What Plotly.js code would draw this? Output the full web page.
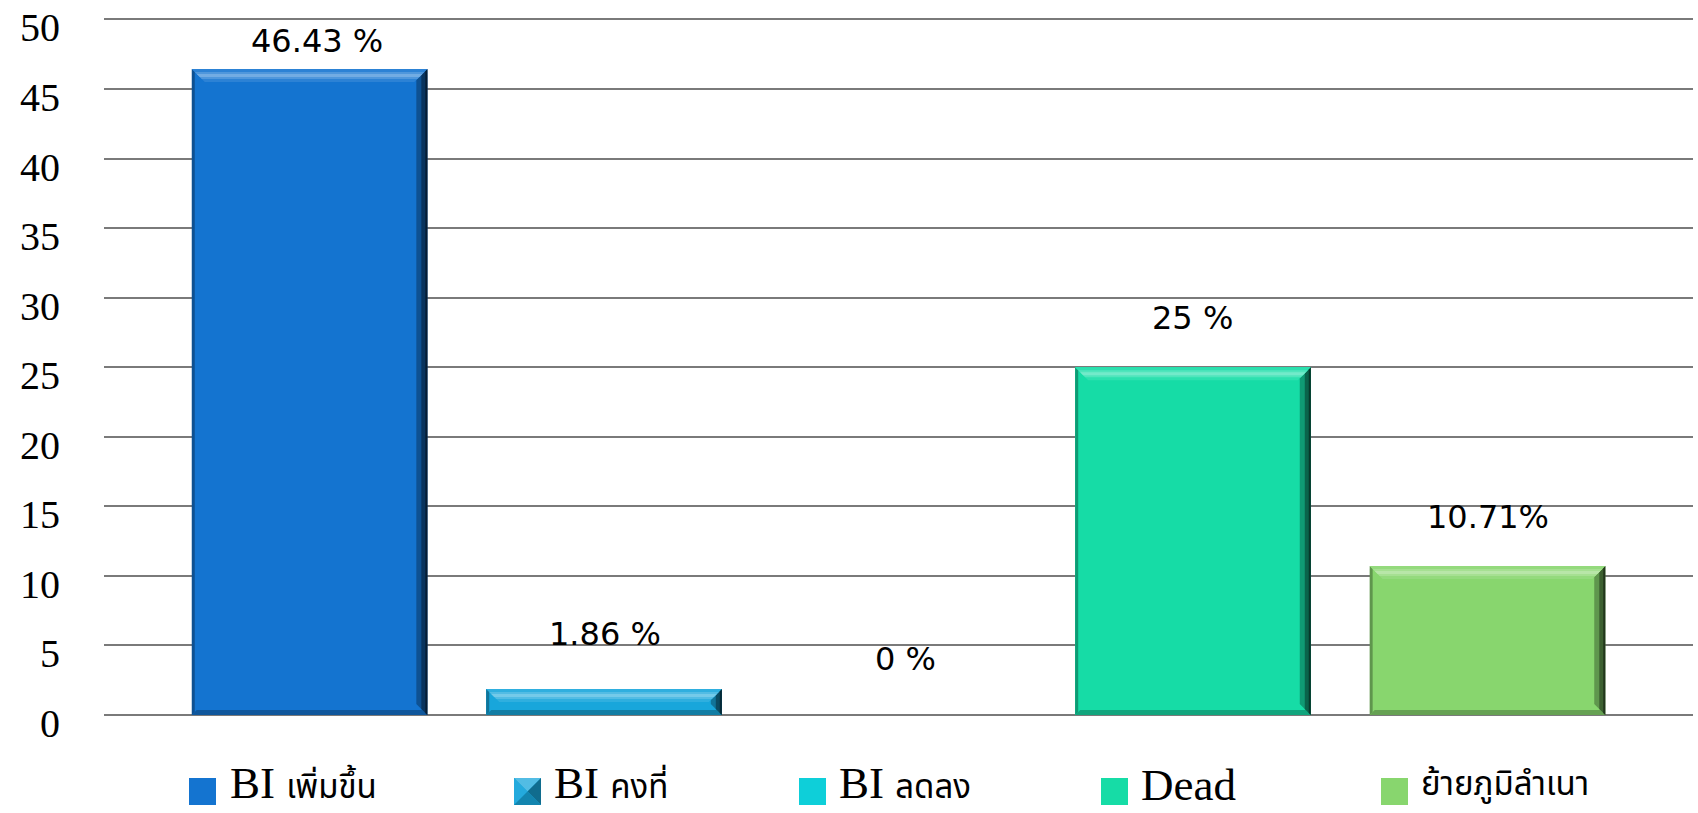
<!DOCTYPE html>
<html><head><meta charset="utf-8">
<script src="https://cdn.plot.ly/plotly-3.0.1.min.js"></script>
<style>html,body{margin:0;padding:0;background:#fff;}#chart{width:1698px;height:813px;}</style>
</head><body><div id="chart"></div>
<script>
// ---- data ----
const categories = ['BI เพิ่มขึ้น', 'BI คงที่', 'BI ลดลง', 'Dead', 'ย้ายภูมิลำเนา'];
const values = [46.43, 1.86, 0, 25, 10.71];
const valueLabels = ['46.43 %', '1.86 %', '0 %', '25 %', '10.71%'];
const colors = ['#1474D0', '#18A6DB', '#0ECFD9', '#16DCA6', '#88D66E'];
const yTickVals = [0, 5, 10, 15, 20, 25, 30, 35, 40, 45, 50];

// ---- layout constants ----
const W = 1698, H = 813;
const yRange = [0, 50.1];
const M = {l: 104, r: 5, t: 18, b: 98, pad: 0};
const plotW = W - M.l - M.r, plotH = H - M.t - M.b;
const xRange = [-0.698, 4.698];
const barWidth = 0.8;
const pxX = plotW / (xRange[1] - xRange[0]);
const pxY = plotH / (yRange[1] - yRange[0]);
const labelXShift = [7, 1, 7, 0, 1];
const labelYShift = [7, 34, 35, 28, 28];
const legendSquareX = [202.5, 527.5, 812.5, 1114.5, 1394.5];
const legendTextX = [228, 552, 837, 1139, 1419];
const legendY = 791.5;
const legendTextY = 785;
const thaiFont = "Noto Sans Thai, Noto Sans Thai UI, Loma, Garuda, Tahoma, sans-serif";

function mix(hex, target, t) {
  const a = parseInt(hex.slice(1), 16);
  const tr = target === 'w' ? 255 : 0;
  const r = (a >> 16) & 255, g = (a >> 8) & 255, b = a & 255;
  const f = v => Math.round(v + (tr - v) * t);
  return 'rgb(' + f(r) + ',' + f(g) + ',' + f(b) + ')';
}
const dx = p => p / pxX, dy = p => p / pxY;
function poly(pts) {
  return 'M' + pts.map(p => p[0] + ',' + p[1]).join('L') + 'Z';
}

const xIdx = categories.map((_, i) => i);

const trace = {
  type: 'bar',
  x: xIdx,
  y: values,
  width: barWidth,
  marker: {color: colors, line: {width: 0}},
  hovertext: categories,
  showlegend: false
};

const shapes = [];
values.forEach((v, i) => {
  if (v <= 0) return;
  const c = colors[i];
  const L = xIdx[i] - barWidth / 2, R = xIdx[i] + barWidth / 2, T = v, B = 0;
  const add = (pts, col) => shapes.push({type: 'path', xref: 'x', yref: 'y', path: poly(pts),
    fillcolor: col, line: {width: 0}, layer: 'above'});
  // bottom band
  add([[L, B], [R, B], [R - dx(5), B + dy(5)], [L + dx(5), B + dy(5)]], mix(c, 'b', 0.25));
  // left band
  add([[L, T], [L, B], [L + dx(3), B + dy(3)], [L + dx(3), T - dy(3)]], mix(c, 'b', 0.3));
  // right band
  add([[R, T], [R, B], [R - dx(11), B + dy(11)], [R - dx(11), T - dy(11)]], mix(c, 'b', 0.3));
  add([[R, T], [R, B], [R - dx(6), B + dy(6)], [R - dx(6), T - dy(6)]], mix(c, 'b', 0.55));
  add([[R, T], [R, B], [R - dx(2), B + dy(2)], [R - dx(2), T - dy(2)]], mix(c, 'b', 0.75));
  // top band
  add([[L, T], [R, T], [R - dx(13), T - dy(13)], [L + dx(13), T - dy(13)]], mix(c, 'w', 0.1));
  add([[L + dx(3), T - dy(3)], [R - dx(3), T - dy(3)], [R - dx(10), T - dy(10)], [L + dx(10), T - dy(10)]], mix(c, 'w', 0.25));
  add([[L + dx(5), T - dy(5)], [R - dx(5), T - dy(5)], [R - dx(8), T - dy(8)], [L + dx(8), T - dy(8)]], mix(c, 'w', 0.4));
});

// legend (manual)
const toPaperX = px => (px - M.l) / plotW;
const toPaperY = py => (M.t + plotH - py) / plotH;
const annotations = [];
categories.forEach((cat, i) => {
  const base = {xref: 'paper', yref: 'paper', xsizemode: 'pixel', ysizemode: 'pixel',
    xanchor: toPaperX(legendSquareX[i]), yanchor: toPaperY(legendY), line: {width: 0}};
  shapes.push(Object.assign({type: 'rect', x0: -13.5, x1: 13.5, y0: -13.5, y1: 13.5, fillcolor: colors[i]}, base));
  if (i === 1) {
    // bevelled legend key as in the reference
    const s = 13.5;
    const tri = (p, col) => shapes.push(Object.assign({type: 'path', path: poly(p), fillcolor: col}, base));
    tri([[-s, s], [s, s], [0, 0]], mix(colors[i], 'w', 0.25));
    tri([[-s, s], [-s, -s], [0, 0]], mix(colors[i], 'w', 0.05));
    tri([[s, s], [s, -s], [0, 0]], mix(colors[i], 'b', 0.35));
    tri([[-s, -s], [s, -s], [0, 0]], mix(colors[i], 'b', 0.2));
  }
  const txt = cat.replace(/([\u0E00-\u0E7F]+)/g,
    '<span style="font-family:' + thaiFont + ';font-size:33px">$1</span>');
  annotations.push({xref: 'paper', yref: 'paper', x: toPaperX(legendTextX[i]), y: toPaperY(legendTextY),
    xanchor: 'left', yanchor: 'middle', showarrow: false, text: txt,
    font: {family: "'Liberation Serif', 'Times New Roman', serif", size: 45, color: '#000'}});
});
values.forEach((v, i) => {
  annotations.push({xref: 'x', yref: 'y', x: xIdx[i], y: v, text: valueLabels[i],
    xanchor: 'center', yanchor: 'bottom', showarrow: false,
    xshift: labelXShift[i], yshift: labelYShift[i],
    font: {family: "'DejaVu Sans', sans-serif", size: 32, color: '#000'}});
});

const layout = {
  width: W, height: H,
  margin: M,
  paper_bgcolor: '#ffffff', plot_bgcolor: 'rgba(0,0,0,0)',
  showlegend: false,
  bargap: 0,
  xaxis: {range: xRange, showticklabels: false, showgrid: false, zeroline: false, ticks: '', showline: false, fixedrange: true},
  yaxis: {range: yRange, tickvals: yTickVals, ticktext: yTickVals.map(String), ticks: '',
    showgrid: true, gridcolor: '#7a7a7a', gridwidth: 2,
    zeroline: true, zerolinecolor: '#7a7a7a', zerolinewidth: 2, showline: false,
    ticklabelstandoff: 43, ticklabeloverflow: 'allow', ticklabelshift: 8,
    tickfont: {family: "'Liberation Serif', 'Times New Roman', serif", size: 40, color: '#000'}},
  shapes: shapes,
  annotations: annotations
};

Plotly.newPlot('chart', [trace], layout, {displayModeBar: false, staticPlot: true});
</script>
</body></html>
